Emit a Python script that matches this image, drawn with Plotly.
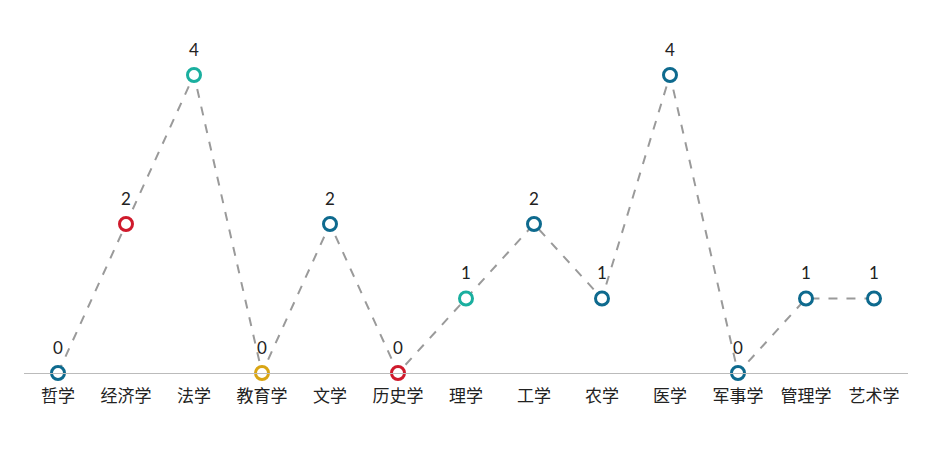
import plotly.graph_objects as go

# Data
subjects = ["哲学", "经济学", "法学", "教育学", "文学", "历史学", "理学",
            "工学", "农学", "医学", "军事学", "管理学", "艺术学"]
counts = [0, 2, 4, 0, 2, 0, 1, 2, 1, 4, 0, 1, 1]
point_colors = ["#0e6a8e", "#cf1a2c", "#1aaf9f", "#d9a514", "#0e6a8e", "#cf1a2c", "#1aaf9f",
                "#0e6a8e", "#0e6a8e", "#0e6a8e", "#0e6a8e", "#0e6a8e", "#0e6a8e"]

fig = go.Figure()

fig.add_trace(go.Scatter(
    x=subjects, y=counts,
    mode="lines+markers",
    line=dict(color="#9a9a9a", width=2, dash="dash"),
    marker=dict(size=13, color="white", line=dict(color=point_colors, width=3)),
    cliponaxis=False,
    hoverinfo="x+y",
))

# value labels above each point
for s, v in zip(subjects, counts):
    fig.add_annotation(x=s, y=v, text=str(v), showarrow=False, yshift=26,
                       font=dict(size=17, color="#222222", family="Lato, sans-serif"))

fig.update_xaxes(
    type="category", range=[-0.5, 12.5],
    showgrid=False, showline=True, linecolor="#bbbbbb", linewidth=1,
    ticks="", tickfont=dict(size=17, color="#222222"), ticklabelstandoff=8,
    zeroline=False,
)
fig.update_yaxes(
    range=[0, 4], showgrid=False, showticklabels=False, zeroline=False, showline=False,
)

fig.update_layout(
    width=929, height=441,
    margin=dict(l=16, r=29, t=67, b=76),
    plot_bgcolor="white", paper_bgcolor="white",
    font=dict(family="Noto Sans CJK SC, sans-serif"),
    showlegend=False,
)

fig.write_html("out.html")
